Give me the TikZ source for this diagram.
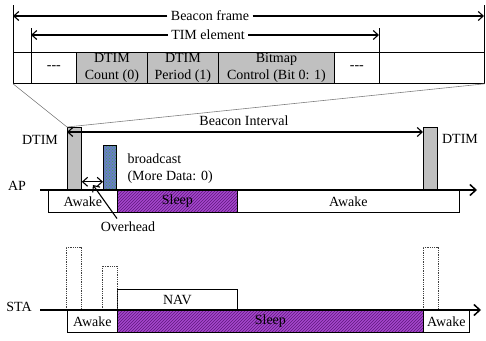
\documentclass[tikz,border=0pt]{standalone}
\usepackage{fontspec}
\setmainfont{Liberation Serif}
\usetikzlibrary{arrows.meta,patterns}

\definecolor{bargray}{RGB}{192,192,192}
\definecolor{sleepfill}{RGB}{165,70,205}
\definecolor{sleephatch}{RGB}{95,25,125}
\definecolor{bcastfill}{RGB}{105,125,200}
\definecolor{bcastdots}{RGB}{70,170,70}

\tikzset{
  arr/.style={line width=1.1pt,-{Straight Barb[length=5pt,width=9pt]}},
  dblarr/.style={line width=1.1pt,{Straight Barb[length=5pt,width=9pt]}-{Straight Barb[length=5pt,width=9pt]}},
  axis/.style={line width=1.5pt,-{Straight Barb[length=6pt,width=11pt]}},
  cell/.style={draw,line width=0.8pt,anchor=north west,minimum height=31pt,inner sep=0pt,align=center},
  graycell/.style={cell,fill=bargray},
  tbox/.style={draw,line width=0.8pt,anchor=north west,minimum height=22pt,inner sep=0pt},
  sleepbox/.style={tbox,preaction={fill=sleepfill},pattern=north east lines,pattern color=sleephatch},
  bar/.style={draw,line width=0.8pt,fill=bargray,anchor=north west,inner sep=0pt},
  bcastbar/.style={draw,line width=0.8pt,anchor=north west,inner sep=0pt,preaction={fill=bcastfill},pattern=crosshatch dots,pattern color=bcastdots},
  dotbar/.style={densely dotted,line width=0.8pt,black!75}
}

\begin{document}
\begin{tikzpicture}[x=1pt,y=-1pt,font=\fontsize{14}{17}\selectfont]
\useasboundingbox (0,0) rectangle (486,340);

\node[cell,minimum width=18pt] (c1) at (13,52) {};
\node[cell,minimum width=45pt] (c2) at (31,52) {-{}-{}-};
\node[graycell,minimum width=71pt] (c3) at (76,52) {DTIM\\Count (0)};
\node[graycell,minimum width=71pt] (c4) at (147,52) {DTIM\\Period (1)};
\node[graycell,minimum width=116pt] (c5) at (218,52) {Bitmap\\Control (Bit 0: 1)};
\node[cell,minimum width=45pt] (c6) at (334,52) {-{}-{}-};
\node[cell,minimum width=105pt] (c7) at (379,52) {};

\draw[line width=0.8pt] (c1.north west) -- ++(0,-47);
\draw[line width=0.8pt] (c7.north east) -- ++(0,-47);
\draw[line width=0.8pt] (c2.north west) -- ++(0,-24);
\draw[line width=0.8pt] (c7.north west) -- ++(0,-24);

\node (bframe) at (210,16) {Beacon frame};
\draw[arr] (bframe.west) -- (13,16);
\draw[arr] (bframe.east) -- (484,16);
\node (tim) at (208,35) {TIM element};
\draw[arr] (tim.west) -- (31,35);
\draw[arr] (tim.east) -- (379,35);

\node[tbox,minimum width=69pt] (apawake) at (48,190) {Awake};
\node[sleepbox,minimum width=120pt] (apsleep) at (117,190) {Sleep};
\node[tbox,minimum width=222pt] (apawaketoo) at (237,190) {Awake};

\node[bar,minimum width=14pt,minimum height=63pt] (dtimA) at (67,127) {};
\node[bcastbar,minimum width=13pt,minimum height=45pt] (bcast) at (103,145) {};
\node[bar,minimum width=14pt,minimum height=63pt] (dtimB) at (423,127) {};

\draw[gray,line width=0.6pt] (c1.south west) -- (dtimA.north west) -- (c7.south east);

\node (ap) at (17,186) {AP};
\draw[axis] (40,190) -- (477,190);

\draw[dblarr] ([yshift=-5pt]dtimA.north west) -- ([yshift=-5pt]dtimB.north west);
\node (bint) at (244,121) {Beacon Interval};
\node (dtimlA) at (40,140) {DTIM};
\node (dtimlB) at (460,139) {DTIM};

\node[anchor=west,align=left] (bcastlbl) at (124,169) {broadcast\\(More Data: 0)};
\draw[dblarr] ([yshift=9pt]dtimA.south east) -- ([yshift=9pt]bcast.south west);
\node (ovh) at (128,227) {Overhead};
\coordinate (ovhtip) at (93,185);
\draw[arr] ([xshift=-11pt]ovh.north) -- (ovhtip);

\node[tbox,minimum width=50pt] (staawake) at (67,310) {Awake};
\node[sleepbox,minimum width=306pt] (stasleep) at (117,310) {Sleep};
\node[tbox,minimum width=46pt] (staawaketoo) at (423,310) {Awake};
\node[tbox,minimum width=120pt,minimum height=21pt] (nav) at (117,289) {NAV};

\draw[dotbar] (66,310) |- (81,247) -- (81,310);
\draw[dotbar] (102,310) |- (117,266) -- (117,310);
\draw[dotbar] (423,310) |- (438,247) -- (438,310);

\node (sta) at (19,307) {STA};
\draw[axis] (40,310) -- (481,310);
\end{tikzpicture}
\end{document}
